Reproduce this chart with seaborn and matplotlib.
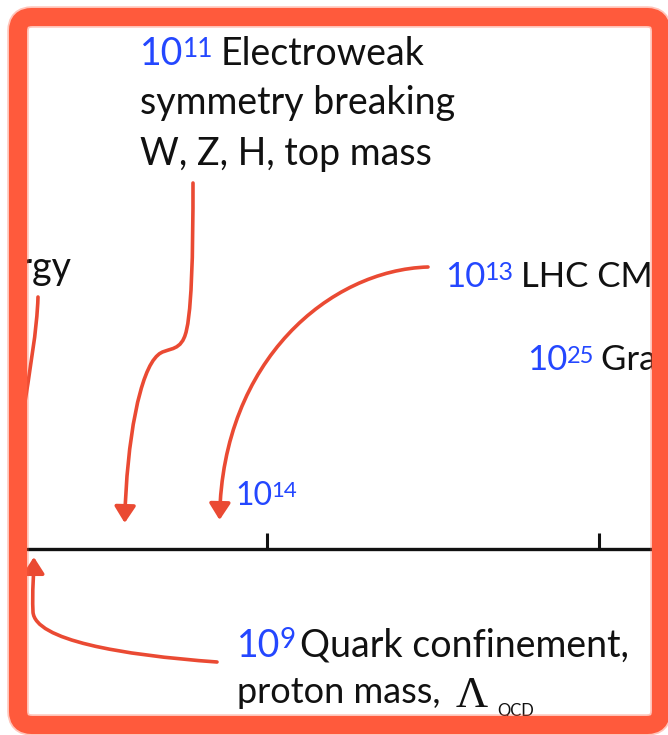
import matplotlib
matplotlib.use('Agg')
import matplotlib.pyplot as plt
import seaborn as sns
from matplotlib.path import Path
from matplotlib.patches import FancyArrowPatch, FancyBboxPatch

sns.set_theme(style='white')
plt.rcParams['font.family'] = ['Lato', 'DejaVu Sans']

# energy axis, in decades (log10 of the energy)
tick_exps = [14, 21]
tick_label_exp = '14'
ew_exp, lhc_exp, qcd_exp = 11, 13, 9
ew_lines = ['Electroweak', 'symmetry breaking', 'W, Z, H, top mass']
lhc_text = 'LHC CMS energy'
gut_exp, gut_text = 25, 'Grand unification'
qcd_lines = ['Quark confinement,', 'proton mass, ']
edge_text = 'Energy'

# layout (pixels of the 668x735 picture)
W, H = 668, 735
PX_DEC = 47.43          # pixels per decade
PX_14 = 267             # where 10^14 sits
AXIS_Y = 549
INNER = (27, 652, 26, 716)   # left, right, top, bottom of the frame's inside
BLUE = '#2447ff'
RED = '#ea4a33'
FRAME = '#ff5a3c'


def ex(px):
    # pixel column -> decade
    return 14 + (px - PX_14) / PX_DEC


def px(e):
    return PX_14 + (e - 14) * PX_DEC


def power_label(ax, x, y, power, size, sup_size, sup_top, text=None, gap=5):
    base = ax.text(ex(x), y, '10', color=BLUE, fontsize=size, va='baseline', ha='left', clip_on=True)
    sup = ax.annotate(power, xy=(1, sup_top), xycoords=(base, 'data'), xytext=(-0.5, 0),
                      textcoords='offset points', color=BLUE, fontsize=sup_size,
                      va='top', ha='left', clip_on=True)
    if text:
        return ax.annotate(text, xy=(1, y), xycoords=(sup, 'data'), xytext=(gap, 0),
                           textcoords='offset points', color='#111111', fontsize=size,
                           va='baseline', ha='left', clip_on=True)
    return sup


def curve(ax, pts, tip=True):
    verts = [(ex(x), y) for x, y in pts]
    codes = [Path.MOVETO] + [Path.CURVE4] * (len(verts) - 1)
    style = '-|>,head_length=0.5,head_width=0.32' if tip else '-'
    arr = FancyArrowPatch(path=Path(verts, codes), arrowstyle=style, mutation_scale=20,
                          color=RED, lw=2.6, capstyle='round', joinstyle='round')
    ax.add_patch(arr)


fig = plt.figure(figsize=(W / 100, H / 100), dpi=100, facecolor='white')
l, r, t, b = INNER
ax = fig.add_axes([l / W, 1 - b / H, (r - l) / W, (b - t) / H])
ax.set_xlim(ex(l), ex(r))
ax.set_ylim(b, t)
ax.axis('off')

# the energy axis and its ticks
ax.axhline(AXIS_Y, color='#111111', lw=2.4)
ax.vlines(tick_exps, AXIS_Y - 16, AXIS_Y, color='#111111', lw=2.2)

# 10^11 electroweak
power_label(ax, 140, 65, str(ew_exp), 27, 19, 37, ew_lines[0])
for i, line in enumerate(ew_lines[1:]):
    ax.text(ex(140), 114 + 51 * i, line, color='#111111', fontsize=27, va='baseline', clip_on=True)
ew_x = px(ew_exp)
curve(ax, [(193, 183), (193, 250), (192, 322), (184, 338),
           (178, 352), (165, 348), (158, 355),
           (140, 370), (ew_x + 2, 440), (ew_x, AXIS_Y - 26)])

# cut-off "Energy" label on the left
ax.text(ex(72), 279, edge_text, color='#111111', fontsize=27, va='baseline', ha='right', clip_on=True)
curve(ax, [(38, 297), (37, 330), (30, 370), (22, 420)], tip=False)

# 10^13 LHC
power_label(ax, 445, 287, str(lhc_exp), 25, 18, 261, lhc_text)
lhc_x = px(lhc_exp)
curve(ax, [(428, 267), (330, 270), (lhc_x + 3, 360), (lhc_x, AXIS_Y - 29)])

# 10^25 grand unification
power_label(ax, 527, 370, str(gut_exp), 25, 17, 346, gut_text)

# 10^14 tick label
power_label(ax, 235, 505, tick_label_exp, 23, 16, 481)

# 10^9 QCD
power_label(ax, 237, 657, str(qcd_exp), 27, 20, 627, qcd_lines[0], gap=3)
pm = ax.text(ex(237), 703, qcd_lines[1], color='#111111', fontsize=26, va='baseline', clip_on=True)
lam = ax.annotate('\u039b', xy=(1, 707), xycoords=(pm, 'data'), xytext=(4, 0),
                  textcoords='offset points', fontsize=32, family='Liberation Serif',
                  color='#111111', va='baseline', clip_on=True)
ax.annotate('QCD', xy=(1, 716), xycoords=(lam, 'data'), xytext=(7, 0),
            textcoords='offset points', fontsize=12, color='#111111', va='baseline', clip_on=True)
qcd_x = px(qcd_exp)
curve(ax, [(217, 662), (120, 655), (35, 640), (33, 612),
           (32, 590), (qcd_x + 4, 575), (qcd_x + 4, AXIS_Y + 8)])

# rounded red frame on top
ov = fig.add_axes([0, 0, 1, 1], zorder=5)
ov.set_xlim(0, W)
ov.set_ylim(H, 0)
ov.axis('off')
ov.patch.set_alpha(0)
for lw, alpha in [(15.5, 0.35), (13, 1.0)]:
    ov.add_patch(FancyBboxPatch((18, 17), 643, 708, boxstyle='round,pad=0,rounding_size=14',
                                fill=False, ec=FRAME, lw=lw, alpha=alpha))

fig.savefig('out.png', dpi=100, facecolor='white')
